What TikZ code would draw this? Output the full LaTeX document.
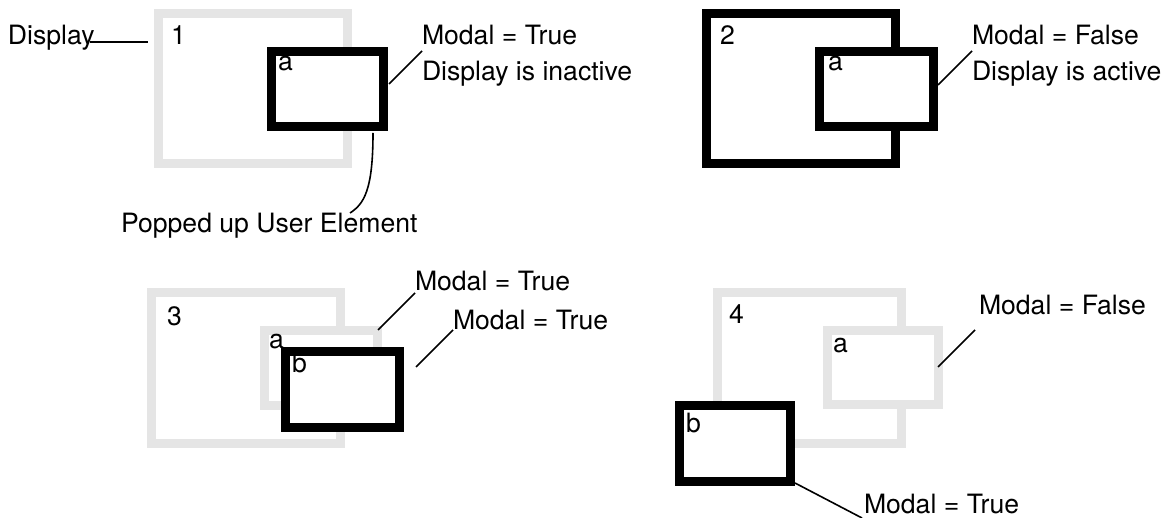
\documentclass[tikz,border=0pt]{standalone}
\usepackage{fontspec}
\setmainfont{TeX Gyre Heros}
\definecolor{lightgr}{HTML}{E5E5E5}
\begin{document}
\begin{tikzpicture}[x=1pt,y=-1pt,
  win/.style={draw, line width=9pt, fill=white, inner sep=0pt, outer sep=0pt},
  inactive/.style={win, draw=lightgr},
  active/.style={win, draw=black},
  lbl/.style={anchor=base west, inner sep=0pt, outer sep=0pt, font=\fontsize{26.6}{30}\selectfont},
  lead/.style={line width=1.6pt}]
\useasboundingbox (0,0) rectangle (1175,518);

% ---------- panel 1 ----------
\node[inactive, minimum width=189pt, minimum height=150pt] (d1) at (253,88.5) {};
\node[active, minimum width=112pt, minimum height=75pt] (a1) at (327.5,89) {};
\node[lbl] (n1) at (171,45) {1};
\node[lbl] (la1) at (278,71) {a};
\node[lbl] (tdisp) at (8,45) {Display};
\node[lbl] (t1a) at (422,45) {Modal = True};
\node[lbl] (t1b) at (422,81) {Display is inactive};
\node[lbl] (tpop) at (121,233) {Popped up User Element};
\coordinate (c1s) at (90,42);
\coordinate (c1e) at (148,42);
\draw[lead] (c1s) -- (c1e);
\coordinate (c2s) at (389,84);
\coordinate (c2e) at (422,51);
\draw[lead] (c2s) -- (c2e);
\coordinate (c3s) at (373,133);
\coordinate (c3e) at (350,213);
\draw[lead] (c3s) .. controls (373,190) and (364,204) .. (c3e);

% ---------- panel 2 ----------
\node[active, minimum width=189pt, minimum height=150pt] (d2) at (801,88.5) {};
\node[active, minimum width=114pt, minimum height=75pt] (a2) at (876.5,89) {};
\node[lbl] (n2) at (720,45) {2};
\node[lbl] (la2) at (828,71) {a};
\node[lbl] (t2a) at (972,45) {Modal = False};
\node[lbl] (t2b) at (972,81) {Display is active};
\coordinate (c4s) at (938,85);
\coordinate (c4e) at (972,51);
\draw[lead] (c4s) -- (c4e);

% ---------- panel 3 ----------
\node[inactive, minimum width=189pt, minimum height=151pt] (d3) at (246,368) {};
\node[inactive, minimum width=113pt, minimum height=75pt] (a3) at (321,368) {};
\node[active, minimum width=114pt, minimum height=76pt] (b3) at (342.5,389.5) {};
\node[lbl] (n3) at (167,326) {3};
\node[lbl] (la3) at (269,349) {a};
\node[lbl] (lb3) at (292,373) {b};
\node[lbl] (t3a) at (415,291) {Modal = True};
\node[lbl] (t3b) at (453,330) {Modal = True};
\coordinate (c5s) at (378,330);
\coordinate (c5e) at (415,293);
\draw[lead] (c5s) -- (c5e);
\coordinate (c6s) at (416,367);
\coordinate (c6e) at (453,330);
\draw[lead] (c6s) -- (c6e);

% ---------- panel 4 ----------
\node[inactive, minimum width=184pt, minimum height=151pt] (d4) at (809.5,368) {};
\node[inactive, minimum width=111pt, minimum height=74pt] (a4) at (883,367.5) {};
\node[active, minimum width=111pt, minimum height=76pt] (b4) at (735,443.5) {};
\node[lbl] (n4) at (729,324) {4};
\node[lbl] (la4) at (833,353) {a};
\node[lbl] (lb4) at (686,432) {b};
\node[lbl] (t4a) at (979,315) {Modal = False};
\node[lbl] (t4b) at (864,513) {Modal = True};
\coordinate (c7s) at (938,367);
\coordinate (c7e) at (975,330);
\draw[lead] (c7s) -- (c7e);
\coordinate (c8s) at (795,483);
\coordinate (c8e) at (862,518);
\draw[lead] (c8s) -- (c8e);
\end{tikzpicture}
\end{document}
